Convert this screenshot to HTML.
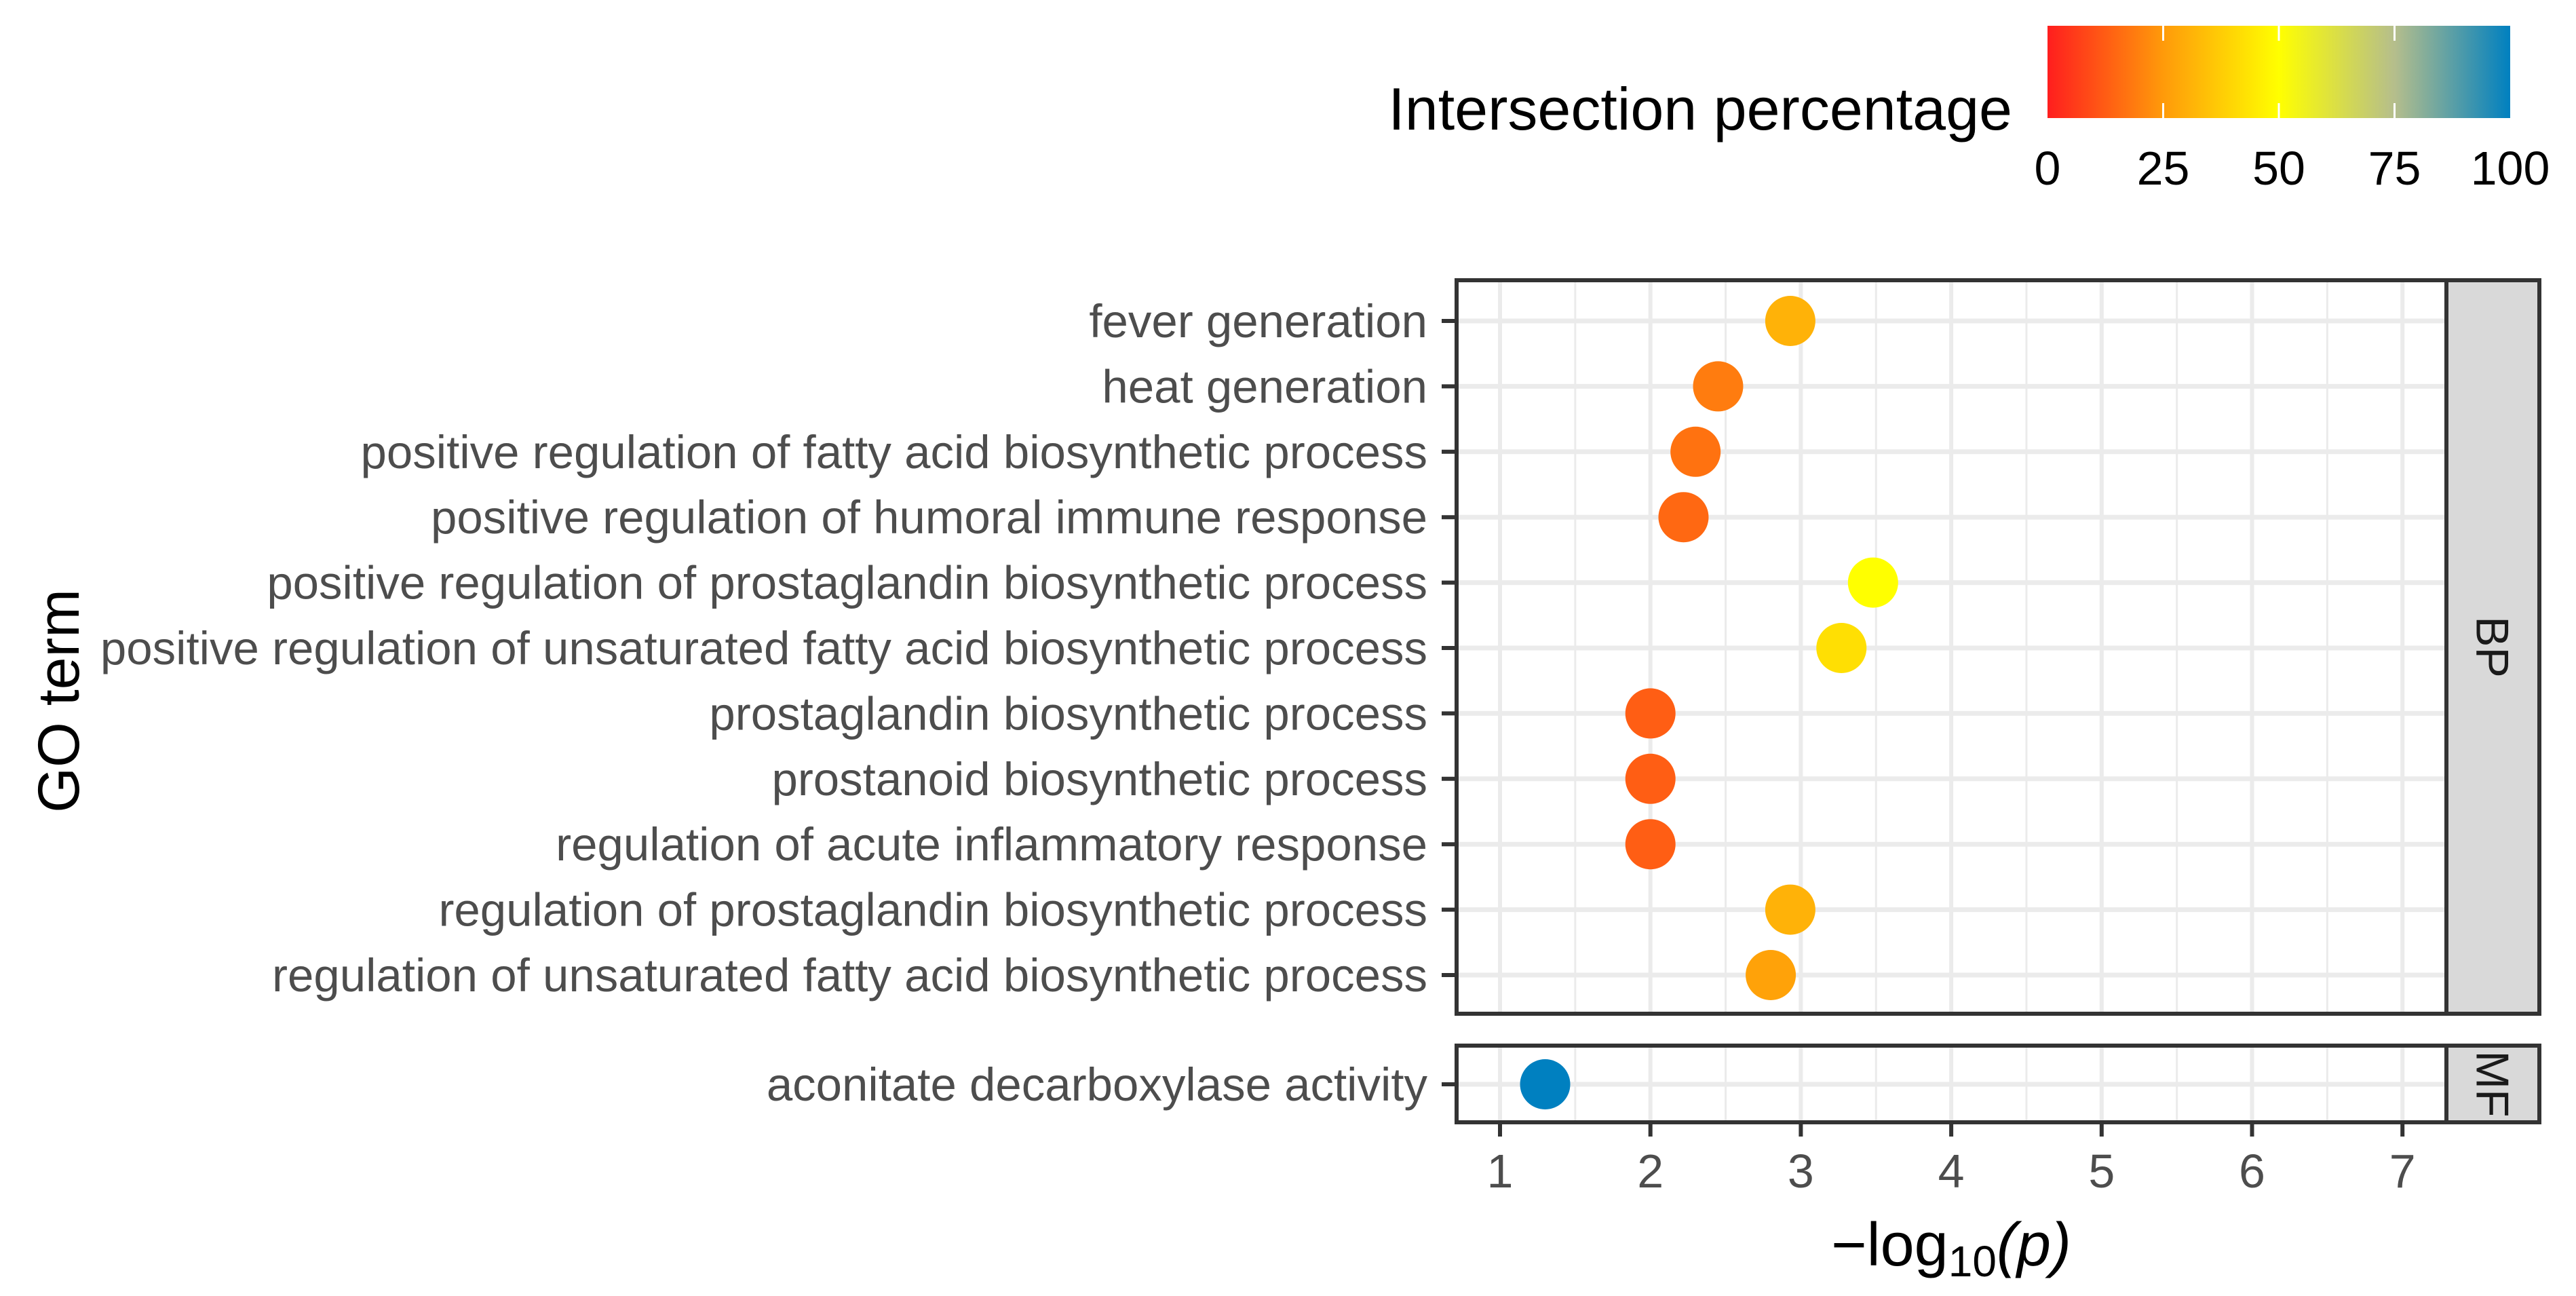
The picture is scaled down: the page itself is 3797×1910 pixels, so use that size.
<!DOCTYPE html>
<html><head><meta charset="utf-8"><style>
html,body{margin:0;padding:0;background:#fff;}
svg{display:block;font-family:"Liberation Sans",Arial,sans-serif;}
</style></head><body>
<svg id="chart" width="3797" height="1910" viewBox="0 0 3797 1910" xmlns="http://www.w3.org/2000/svg">
<defs>
<linearGradient id="cgrad" x1="0" x2="1" y1="0" y2="0">
<stop offset="0" stop-color="#FF1E1E"/><stop offset="0.25" stop-color="#FF9A0A"/><stop offset="0.5" stop-color="#FFFF00"/><stop offset="0.75" stop-color="#B5BE8C"/><stop offset="1" stop-color="#0080C0"/>
</linearGradient>
</defs>
<g id="legend">
<text x="2966" y="191" font-size="88" text-anchor="end" fill="#000">Intersection percentage</text>
<rect x="3018" y="38" width="682" height="136" fill="url(#cgrad)"/>
</g>
<g id="plot"></g>
<text x="2876" y="1865" font-size="90" text-anchor="middle" fill="#000">−log<tspan font-size="64" dy="16">10</tspan><tspan dy="-16" font-style="italic">(p)</tspan></text>
<text transform="translate(116,1033) rotate(-90)" font-size="86" text-anchor="middle" fill="#000">GO term</text>
</svg>
<script>
const terms = ["fever generation","heat generation","positive regulation of fatty acid biosynthetic process","positive regulation of humoral immune response","positive regulation of prostaglandin biosynthetic process","positive regulation of unsaturated fatty acid biosynthetic process","prostaglandin biosynthetic process","prostanoid biosynthetic process","regulation of acute inflammatory response","regulation of prostaglandin biosynthetic process","regulation of unsaturated fatty acid biosynthetic process"];
const bpValues = [2.93, 2.45, 2.3, 2.22, 3.48, 3.27, 2.0, 2.0, 2.0, 2.93, 2.8];
const bpPercent = [31, 19, 17, 15, 50, 42, 13, 13, 13, 31, 27];
const mfTerms = ["aconitate decarboxylase activity"];
const mfValues = [1.3];
const mfPercent = [100];
const xTicks = [1,2,3,4,5,6,7];
const legendTicks = [0,25,50,75,100];

const NS="http://www.w3.org/2000/svg";
const plot=document.getElementById('plot');
const legend=document.getElementById('legend');
function mk(tag,attrs,parent){const e=document.createElementNS(NS,tag);for(const k in attrs)e.setAttribute(k,attrs[k]);(parent||plot).appendChild(e);return e;}
const X0=2147,X1=3606,XMIN=1-(2211-2147)/221.7,XMAX=1+(3606-2211)/221.7;
function xs(v){return X0+(v-XMIN)/(XMAX-XMIN)*(X1-X0);}
const stops=[[0,[255,30,30]],[25,[255,154,10]],[50,[255,255,0]],[75,[181,190,140]],[100,[0,128,192]]];
function col(p){for(let i=0;i<stops.length-1;i++){const a=stops[i],b=stops[i+1];if(p<=b[0]){const t=(p-a[0])/(b[0]-a[0]);const c=a[1].map((v,j)=>Math.round(v+(b[1][j]-v)*t));return `rgb(${c.join(',')})`;}}return 'rgb(0,128,192)';}
function lsX(p){return 3018+p/100*682;}
legendTicks.forEach(t=>{
  if(t>0&&t<100){const l=mk('line',{x1:lsX(t),x2:lsX(t),y1:38,y2:60,stroke:'#fff','stroke-width':3},legend);
  
  
  const l2=mk('line',{x1:lsX(t),x2:lsX(t),y1:152,y2:174,stroke:'#fff','stroke-width':3},legend);
  
  }
  const tx=mk('text',{x:lsX(t),y:272,'font-size':70,'text-anchor':'middle',fill:'#000'},legend);
  tx.textContent=t;
  
  
});
function panel(top,bottom,labels,vals,pcts,y0,step,strip,name){
  const g=mk('g',{});
  
  
  mk('rect',{x:X0,y:top,width:X1-X0,height:bottom-top,fill:'#fff'},g);
  for(let v=1.5;v<XMAX;v+=1){const l=mk('line',{x1:xs(v),x2:xs(v),y1:top,y2:bottom,stroke:'#EBEBEB','stroke-width':3},g);
    
    }
  xTicks.forEach(v=>{const l=mk('line',{x1:xs(v),x2:xs(v),y1:top,y2:bottom,stroke:'#EBEBEB','stroke-width':6},g);
    
    });
  labels.forEach((lab,i)=>{const y=y0+i*step;
    const l=mk('line',{x1:X0,x2:X1,y1:y,y2:y,stroke:'#EBEBEB','stroke-width':7},g);
    
    
    const tk=mk('line',{x1:2125,x2:X0,y1:y,y2:y,stroke:'#333','stroke-width':6},g);
    
    
    const t=mk('text',{x:2104,y:y+24,'font-size':69,'text-anchor':'end',fill:'#4D4D4D'},g);t.textContent=lab;
    
    
  });
  labels.forEach((lab,i)=>{const y=y0+i*step;
    const c=mk('circle',{cx:xs(vals[i]),cy:y,r:37,fill:col(pcts[i])},g);
    
    
  });
  mk('rect',{x:X0,y:top,width:X1-X0,height:bottom-top,fill:'none',stroke:'#333','stroke-width':6},g);
  const s=mk('rect',{x:X1,y:top,width:3743-X1,height:bottom-top,fill:'#D9D9D9',stroke:'#333','stroke-width':6},g);
  
  
  const st=mk('text',{transform:`translate(${(X1+3743)/2-24},${(top+bottom)/2}) rotate(90)`,'font-size':68,'text-anchor':'middle',fill:'#1A1A1A'},g);
  st.textContent=strip;
  
  
}
panel(413,1494,terms,bpValues,bpPercent,473,96.4,'BP','bp');
panel(1541,1654,mfTerms,mfValues,mfPercent,1598,96.4,'MF','mf');
xTicks.forEach(v=>{
  const l=mk('line',{x1:xs(v),x2:xs(v),y1:1654,y2:1675,stroke:'#333','stroke-width':6});
  
  
  const t=mk('text',{x:xs(v),y:1750,'font-size':70,'text-anchor':'middle',fill:'#4D4D4D'});t.textContent=v;
  
  
});
</script>
</body></html>
